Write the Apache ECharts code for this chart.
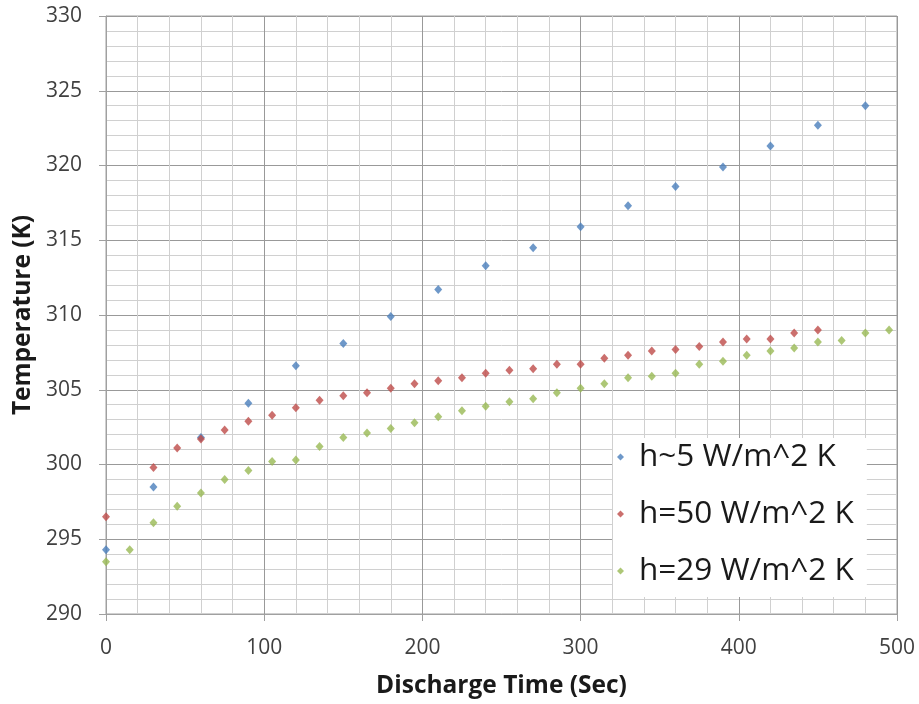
<!DOCTYPE html>
<html><head><meta charset="utf-8">
<script src="https://cdn.jsdelivr.net/npm/echarts@6/dist/echarts.min.js"></script>
<style>html,body{margin:0;padding:0;background:#fff}#c{width:919px;height:704px}</style>
</head><body><div id="c"></div>
<script>
const seriesNames = ['h~5 W/m^2 K', 'h=50 W/m^2 K', 'h=29 W/m^2 K'];
const xBlue = [0,30,60,90,120,150,180,210,240,270,300,330,360,390,420,450,480];
const yBlue = [294.3,298.5,301.8,304.1,306.6,308.1,309.9,311.7,313.3,314.5,315.9,317.3,318.6,319.9,321.3,322.7,324.0];
const xRed = [0,30,45,60,75,90,105,120,135,150,165,180,195,210,225,240,255,270,285,300,315,330,345,360,375,390,405,420,435,450];
const yRed = [296.5,299.8,301.1,301.7,302.3,302.9,303.3,303.8,304.3,304.6,304.8,305.1,305.4,305.6,305.8,306.1,306.3,306.4,306.7,306.7,307.1,307.3,307.6,307.7,307.9,308.2,308.4,308.4,308.8,309.0];
const xGreen = [0,15,30,45,60,75,90,105,120,135,150,165,180,195,210,225,240,255,270,285,300,315,330,345,360,375,390,405,420,435,450,465,480,495];
const yGreen = [293.5,294.3,296.1,297.2,298.1,299.0,299.6,300.2,300.3,301.2,301.8,302.1,302.4,302.8,303.2,303.6,303.9,304.2,304.4,304.8,305.1,305.4,305.8,305.9,306.1,306.7,306.9,307.3,307.6,307.8,308.2,308.3,308.8,309.0];
const colors = ['#4a7ebb', '#be4b48', '#98b954'];

const pair = (xs, ys) => xs.map((x, i) => [x, ys[i]]);
const font = '"Open Sans", sans-serif';
const chart = echarts.init(document.getElementById('c'), null, {renderer: 'canvas'});
chart.setOption({
  animation: false,
  color: colors,
  grid: {left: 106, right: 22, top: 16, bottom: 87, show: true, borderColor: '#a0a0a0', borderWidth: 1},
  legend: {
    orient: 'vertical', left: 613, top: 438,
    backgroundColor: '#ffffff', padding: [3, 13, 10, 4], itemGap: 25,
    icon: 'diamond', itemWidth: 7, itemHeight: 7,
    textStyle: {fontFamily: font, fontSize: 31.5, color: '#1a1a1a', padding: [0, 0, 0, 10]},
    data: seriesNames
  },
  xAxis: {
    type: 'value', min: 0, max: 500, interval: 100,
    name: 'Discharge Time (Sec)', nameLocation: 'middle', nameGap: 60,
    nameTextStyle: {fontFamily: font, fontSize: 24.5, fontWeight: 'bold', color: '#1a1a1a'},
    axisLine: {show: true, lineStyle: {color: '#a0a0a0'}},
    axisTick: {show: true, length: 7, lineStyle: {color: '#a0a0a0'}},
    axisLabel: {fontFamily: font, fontSize: 21, color: '#404040', margin: 24},
    splitLine: {show: true, lineStyle: {color: '#999999', width: 1}},
    minorTick: {show: false, splitNumber: 5},
    minorSplitLine: {show: true, lineStyle: {color: '#d0d0d0', width: 1}}
  },
  yAxis: {
    type: 'value', min: 290, max: 330, interval: 5,
    name: 'Temperature (K)', nameLocation: 'middle', nameGap: 66,
    nameTextStyle: {fontFamily: font, fontSize: 24.5, fontWeight: 'bold', color: '#1a1a1a'},
    axisLine: {show: true, lineStyle: {color: '#a0a0a0'}},
    axisTick: {show: true, length: 7, lineStyle: {color: '#a0a0a0'}},
    axisLabel: {fontFamily: font, fontSize: 21, color: '#404040', margin: 24},
    splitLine: {show: true, lineStyle: {color: '#999999', width: 1}},
    minorTick: {show: false, splitNumber: 5},
    minorSplitLine: {show: true, lineStyle: {color: '#d0d0d0', width: 1}}
  },
  series: [
    {name: seriesNames[0], type: 'scatter', symbol: 'diamond', symbolSize: [8, 9], data: pair(xBlue, yBlue)},
    {name: seriesNames[1], type: 'scatter', symbol: 'diamond', symbolSize: [8, 9], data: pair(xRed, yRed)},
    {name: seriesNames[2], type: 'scatter', symbol: 'diamond', symbolSize: [8, 9], data: pair(xGreen, yGreen)}
  ]
});
</script></body></html>
